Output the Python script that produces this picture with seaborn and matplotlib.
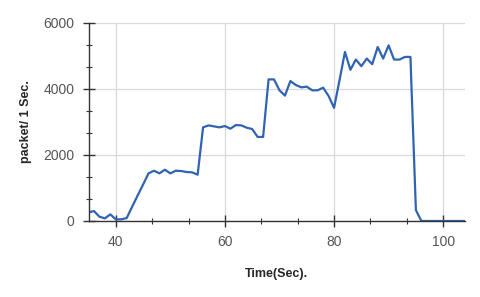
import matplotlib
matplotlib.use("Agg")
import matplotlib.pyplot as plt
from matplotlib.ticker import MultipleLocator
import seaborn as sns
import pandas as pd

# packets per second
seconds = [35, 36, 37, 38, 39, 40, 41, 42, 43, 44, 45, 46, 47, 48, 49, 50,
           51, 52, 53, 54, 55, 56, 57, 58, 59, 60, 61, 62, 63, 64, 65, 66,
           67, 68, 69, 70, 71, 72, 73, 74, 75, 76, 77, 78, 79, 80, 81, 82,
           83, 84, 85, 86, 87, 88, 89, 90, 91, 92, 93, 94, 95, 96, 97, 98,
           99, 100, 101, 102, 103, 104]
packets = [262, 300, 130, 80, 200, 50, 50, 90, 430, 770, 1100, 1440, 1520, 1440, 1550, 1440,
           1520, 1510, 1480, 1470, 1400, 2830, 2890, 2860, 2830, 2870, 2790, 2900, 2890, 2820, 2780, 2540,
           2540, 4280, 4280, 3950, 3790, 4230, 4110, 4040, 4060, 3950, 3950, 4030, 3780, 3420, 4250, 5110,
           4570, 4880, 4680, 4910, 4740, 5260, 4910, 5310, 4880, 4880, 4960, 4960, 330, 0, 0, 0,
           0, 0, 0, 0, 0, 0]

df = pd.DataFrame({"t": seconds, "p": packets})

sns.set_style("white")
plt.rcParams['font.family'] = ['Liberation Sans', 'DejaVu Sans']

fig = plt.figure(figsize=(4.8, 2.97), dpi=100)
ax = fig.add_axes([88.5 / 480, 1 - 221 / 297, (465 - 88.5) / 480, (221 - 22.5) / 297])

sns.lineplot(data=df, x="t", y="p", ax=ax, color="#3163b3", linewidth=1.6)

ax.set_xlim(35, 104)
ax.set_ylim(0, 6000)
ax.xaxis.set_major_locator(MultipleLocator(20))
ax.xaxis.set_minor_locator(MultipleLocator(20 / 3))
ax.yaxis.set_major_locator(MultipleLocator(2000))
ax.yaxis.set_minor_locator(MultipleLocator(2000 / 3))

ax.grid(True, which="major", color="#d9d9d9", linewidth=0.9)
ax.set_axisbelow(True)
for s in ["top", "right"]:
    ax.spines[s].set_visible(False)
for s in ["left", "bottom"]:
    ax.spines[s].set_color("#333333")
    ax.spines[s].set_linewidth(1.0)

ax.tick_params(which="major", direction="inout", length=8, width=1, color="#333333",
               labelsize=10, labelcolor="#555555", pad=6)
ax.tick_params(which="minor", direction="inout", length=5, width=0.8, color="#333333")
ax.tick_params(axis="x", which="both", bottom=True)
ax.tick_params(axis="y", which="both", left=True)

ax.set_xlabel("Time(Sec).", fontsize=9, fontweight="bold", labelpad=14)
ax.set_ylabel("packet/ 1 Sec.", fontsize=9, fontweight="bold", labelpad=8)

fig.savefig("out.png", dpi=100)
